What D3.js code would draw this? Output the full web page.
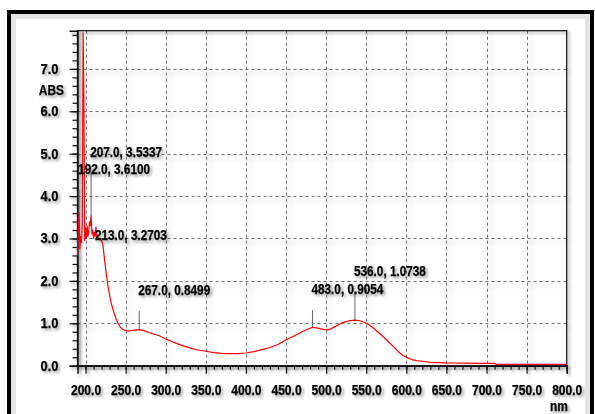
<!DOCTYPE html>
<html>
<head>
<meta charset="utf-8">
<script src="https://cdn.jsdelivr.net/npm/d3@7/dist/d3.min.js"></script>
<style>
  html, body { margin: 0; padding: 0; background: #fff; }
  svg { display: block; }
  .lbl { font-family: "Liberation Sans", Arial, sans-serif; font-weight: bold; font-size: 14px; fill: #000; stroke: #000; stroke-width: 0.25px; }
</style>
</head>
<body>
<svg id="chart" width="595" height="414"></svg>
<script>
// UV-Vis absorbance spectrum (nm vs ABS)
const wavelengths = [
  190, 191, 192, 193, 194, 195, 196, 197, 198, 199,
  200, 201, 202, 203, 204, 205, 206, 207, 208, 209,
  210, 211, 212, 213, 214, 215, 216, 217, 218, 219,
  220, 221, 222, 224, 226, 228, 230, 232, 234, 236,
  238, 240, 243, 246, 249, 252, 255, 258, 261, 264,
  267, 270, 274, 278, 283, 288, 293, 300, 310, 320,
  330, 340, 350, 360, 370, 380, 390, 400, 410, 420,
  430, 440, 450, 460, 470, 477, 483, 488, 493, 498,
  502, 506, 510, 515, 520, 525, 530, 536, 542, 548,
  554, 560, 566, 572, 578, 584, 590, 596, 601, 607,
  613, 620, 630, 650, 670, 690, 710, 712, 750, 800
];
const absorbance = [
  2.60, 3.20, 3.61, 2.75, 3.05, 2.90, 3.35, 7.85, 6.30, 2.95,
  3.25, 3.00, 3.30, 3.05, 3.15, 3.40, 3.30, 3.5337, 3.10, 3.20,
  3.00, 3.15, 3.05, 3.2703, 3.05, 3.00, 3.02, 2.98, 3.00, 2.97,
  2.95, 2.90, 2.80, 2.45, 2.15, 1.88, 1.66, 1.48, 1.34, 1.22,
  1.11, 1.02, 0.92, 0.86, 0.83, 0.82, 0.82, 0.83, 0.84, 0.845,
  0.8499, 0.84, 0.82, 0.79, 0.76, 0.73, 0.70, 0.63, 0.55, 0.48,
  0.42, 0.37, 0.34, 0.31, 0.29, 0.285, 0.285, 0.30, 0.33, 0.38,
  0.43, 0.50, 0.61, 0.70, 0.80, 0.86, 0.9054, 0.89, 0.87, 0.85,
  0.845, 0.87, 0.91, 0.96, 1.01, 1.04, 1.065, 1.0738, 1.06, 1.02,
  0.96, 0.87, 0.77, 0.67, 0.56, 0.45, 0.33, 0.24, 0.19, 0.145,
  0.12, 0.105, 0.08, 0.065, 0.06, 0.057, 0.055, 0.033, 0.033, 0.03
];

// picked peaks and the ABS level where each annotation is written
const peakNm = [192, 207, 213, 267, 483, 536];
const peakAbs = [3.6100, 3.5337, 3.2703, 0.8499, 0.9054, 1.0738];
const peakLabelAbs = [4.53, 4.93, 2.97, 1.67, 1.69, 2.12];

const xMajorTicks = [200, 250, 300, 350, 400, 450, 500, 550, 600, 650, 700, 750, 800];
const yMajorTicks = [0, 1, 2, 3, 4, 5, 6, 7];
const xTitle = "nm";
const yTitle = "ABS";

const svg = d3.select("#chart");
const defs = svg.append("defs");

const shadow = defs.append("filter").attr("id", "soft")
  .attr("x", "-20%").attr("y", "-20%").attr("width", "140%").attr("height", "140%");
shadow.append("feDropShadow").attr("dx", 2).attr("dy", 2)
  .attr("stdDeviation", 1.8).attr("flood-color", "#000").attr("flood-opacity", 0.4);

const gridShadow = defs.append("filter").attr("id", "gridsoft")
  .attr("x", "-5%").attr("y", "-5%").attr("width", "110%").attr("height", "110%");
gridShadow.append("feDropShadow").attr("dx", 3).attr("dy", 4)
  .attr("stdDeviation", 2.5).attr("flood-color", "#000").attr("flood-opacity", 0.3);

// condensed bold lettering: squeeze each label horizontally
function condense(sel, k) {
  sel.each(function () {
    const w = this.getComputedTextLength();
    d3.select(this).attr("textLength", w * k).attr("lengthAdjust", "spacingAndGlyphs");
  });
}

// outer frame
svg.append("rect").attr("x", 13).attr("y", 16).attr("width", 575).attr("height", 500)
  .attr("fill", "none").attr("stroke", "#e4e4e4").attr("stroke-width", 6);
svg.append("rect").attr("x", 9).attr("y", 12).attr("width", 583).attr("height", 500)
  .attr("fill", "none").attr("stroke", "#000").attr("stroke-width", 4);

const plot = { left: 77.5, right: 566.7, top: 30.7, bottom: 365.7 };

const x = d3.scaleLinear().domain([190, 800]).range([plot.left, plot.right]);
const y = d3.scaleLinear().domain([0, 7.9]).range([plot.bottom, plot.top]);

// grid
const grid = svg.append("g").attr("filter", "url(#gridsoft)");
grid.selectAll("line.v").data(xMajorTicks.filter(d => d < 800)).join("line")
  .attr("x1", d => Math.round(x(d)) + 0.5).attr("x2", d => Math.round(x(d)) + 0.5)
  .attr("y1", plot.top).attr("y2", plot.bottom)
  .attr("stroke", "#6e6e6e").attr("stroke-dasharray", "3,3");
grid.selectAll("line.h").data(yMajorTicks.filter(d => d > 0)).join("line")
  .attr("y1", d => Math.round(y(d)) + 0.5).attr("y2", d => Math.round(y(d)) + 0.5)
  .attr("x1", plot.left).attr("x2", plot.right)
  .attr("stroke", "#6e6e6e").attr("stroke-dasharray", "3,3");

// plot box
svg.append("rect").attr("x", plot.left).attr("y", plot.top)
  .attr("width", plot.right - plot.left).attr("height", plot.bottom - plot.top)
  .attr("fill", "none").attr("stroke", "#111").attr("stroke-width", 1.2)
  .attr("filter", "url(#soft)");

// axes
const xMinor = d3.range(190, 801, 10);
const yMinor = d3.range(0, 40).map(i => +(i * 0.2).toFixed(1));

const axes = svg.append("g").attr("filter", "url(#soft)");

axes.append("g").attr("transform", `translate(0,${plot.bottom})`)
  .call(d3.axisBottom(x).tickValues(xMinor).tickSize(4).tickFormat(""))
  .call(g => g.select(".domain").remove());
axes.append("g").attr("transform", `translate(0,${plot.bottom})`)
  .call(d3.axisBottom(x).tickValues(xMajorTicks).tickSize(8).tickPadding(11).tickFormat(d3.format(".1f")))
  .call(g => g.select(".domain").attr("stroke", "#111").attr("stroke-width", 1.5))
  .call(g => g.selectAll("text").attr("class", "lbl").call(condense, 0.86));

axes.append("g").attr("transform", `translate(${plot.left},0)`)
  .call(d3.axisLeft(y).tickValues(yMinor).tickSize(5).tickFormat(""))
  .call(g => g.select(".domain").remove());
axes.append("g").attr("transform", `translate(${plot.left},0)`)
  .call(d3.axisLeft(y).tickValues(yMajorTicks).tickSize(8).tickPadding(11).tickFormat(d3.format(".1f")))
  .call(g => g.select(".domain").attr("stroke", "#111").attr("stroke-width", 1.5))
  .call(g => g.selectAll("text").attr("class", "lbl").call(condense, 0.92));

axes.selectAll(".tick line").attr("stroke", "#111").attr("stroke-width", 1.2);

axes.append("text").attr("class", "lbl").attr("x", 64).attr("y", 95)
  .attr("text-anchor", "end").text(yTitle).call(condense, 0.85);
axes.append("text").attr("class", "lbl").attr("x", 559).attr("y", 411)
  .attr("text-anchor", "middle").text(xTitle).call(condense, 0.85);

// peak markers
const peaks = peakNm.map((nm, i) => ({ nm, abs: peakAbs[i], at: peakLabelAbs[i] }));
svg.append("g").selectAll("line").data(peaks.filter(p => y(p.at) + 16 < y(p.abs))).join("line")
  .attr("x1", p => x(p.nm)).attr("x2", p => x(p.nm))
  .attr("y1", p => y(p.abs)).attr("y2", p => y(p.at) + 16)
  .attr("stroke", "#666").attr("stroke-width", 1);

// spectrum
const line = d3.line().x((d, i) => x(wavelengths[i])).y(d => y(d));
svg.append("path").datum(absorbance)
  .attr("d", line)
  .attr("fill", "none").attr("stroke", "#ff0000").attr("stroke-width", 1.2)
  .attr("stroke-linejoin", "round");

// peak annotations
svg.append("g").attr("filter", "url(#soft)").selectAll("text").data(peaks).join("text")
  .attr("class", "lbl")
  .attr("x", p => x(p.nm) - 1).attr("y", p => y(p.at))
  .text(p => `${p.nm.toFixed(1)}, ${p.abs.toFixed(4)}`)
  .call(condense, 0.84);
</script>
</body>
</html>
